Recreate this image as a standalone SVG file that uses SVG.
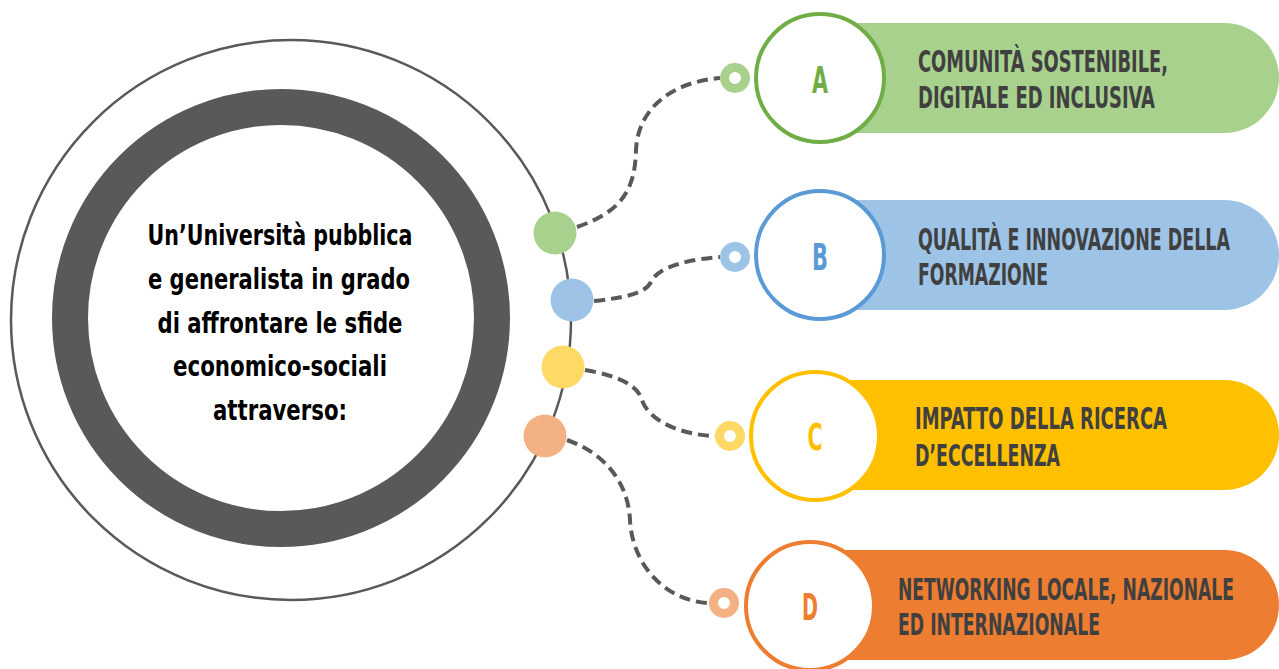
<svg xmlns="http://www.w3.org/2000/svg" width="1279" height="669" viewBox="0 0 1279 669">
<style>
.pill-t{font-family:"DejaVu Sans Condensed","DejaVu Sans","Liberation Sans",sans-serif;font-weight:bold;font-size:30px;fill:#404040}
.main-t{font-family:"DejaVu Sans Condensed","DejaVu Sans","Liberation Sans",sans-serif;font-weight:bold;font-size:28px;fill:#000;text-anchor:middle}
.letter{font-family:"DejaVu Sans Condensed","DejaVu Sans","Liberation Sans",sans-serif;font-weight:bold;font-size:38px;text-anchor:middle}
.conn{fill:none;stroke:#595959;stroke-width:4;stroke-dasharray:11 6}
.ring{fill:#fff;stroke-width:9}
.badge{fill:#fff;stroke-width:4}
</style>
<rect width="1279" height="669" fill="#fff"/>
<g id="center">
<circle cx="291" cy="320" r="280" fill="none" stroke="#595959" stroke-width="2.5"/>
<circle cx="281" cy="318" r="211" fill="#fff" stroke="#595959" stroke-width="36"/>
<text class="main-t" x="280" y="245" textLength="265" lengthAdjust="spacingAndGlyphs">Un’Università pubblica</text>
<text class="main-t" x="279" y="289" textLength="262" lengthAdjust="spacingAndGlyphs">e generalista in grado</text>
<text class="main-t" x="280" y="333" textLength="245" lengthAdjust="spacingAndGlyphs">di affrontare le sfide</text>
<text class="main-t" x="280" y="376" textLength="214" lengthAdjust="spacingAndGlyphs">economico-sociali</text>
<text class="main-t" x="280" y="420" textLength="134" lengthAdjust="spacingAndGlyphs">attraverso:</text>
</g>
<g id="connectors">
<path class="conn" d="M 577 227 C 620 212, 635 192, 636 150 C 638 108, 672 82, 720 78"/>
<path class="conn" d="M 594 301 C 622 298, 645 294, 651 282 C 658 266, 692 259, 720 257"/>
<path class="conn" d="M 585 370 C 620 376, 638 386, 642 400 C 648 420, 680 435, 715 436"/>
<path class="conn" d="M 567 440 C 602 452, 628 480, 630 520 C 632 562, 662 600, 708 603"/>
</g>
<g id="dots">
<circle cx="555" cy="233" r="21.5" fill="#A9D18E"/>
<circle cx="572" cy="300" r="21.5" fill="#9DC3E6"/>
<circle cx="563" cy="367" r="21.5" fill="#FFD966"/>
<circle cx="545" cy="436" r="21.5" fill="#F4B183"/>
</g>
<g id="node-a">
<path d="M 850 23 H 1224 A 55 55 0 0 1 1224 133 H 850 Z" fill="#A9D18E"/>
<circle class="ring" cx="735" cy="78" r="10.5" stroke="#A9D18E"/>
<circle class="badge" cx="820" cy="78" r="64" stroke="#70AD47"/>
<text class="letter" x="820" y="93" fill="#70AD47" textLength="16" lengthAdjust="spacingAndGlyphs">A</text>
<g transform="scale(0.65,1)">
<text class="pill-t" x="1412.3" y="72" textLength="384.6" lengthAdjust="spacingAndGlyphs">COMUNITÀ SOSTENIBILE,</text>
<text class="pill-t" x="1412.3" y="108" textLength="364.6" lengthAdjust="spacingAndGlyphs">DIGITALE ED INCLUSIVA</text>
</g>
</g>
<g id="node-b">
<path d="M 850 200 H 1224 A 55 55 0 0 1 1224 310 H 850 Z" fill="#9DC3E6"/>
<circle class="ring" cx="735" cy="257" r="10.5" stroke="#9DC3E6"/>
<circle class="badge" cx="820" cy="255" r="64" stroke="#5B9BD5"/>
<text class="letter" x="820" y="270" fill="#5B9BD5" textLength="16" lengthAdjust="spacingAndGlyphs">B</text>
<g transform="scale(0.65,1)">
<text class="pill-t" x="1412.3" y="250" textLength="480" lengthAdjust="spacingAndGlyphs">QUALITÀ E INNOVAZIONE DELLA</text>
<text class="pill-t" x="1412.3" y="285" textLength="200" lengthAdjust="spacingAndGlyphs">FORMAZIONE</text>
</g>
</g>
<g id="node-c">
<path d="M 845 380 H 1224 A 55 55 0 0 1 1224 490 H 845 Z" fill="#FFC000"/>
<circle class="ring" cx="730" cy="436" r="10.5" stroke="#FFD966"/>
<circle class="badge" cx="815" cy="436" r="64" stroke="#FFC000"/>
<text class="letter" x="815" y="450" fill="#FFC000" textLength="15" lengthAdjust="spacingAndGlyphs">C</text>
<g transform="scale(0.65,1)">
<text class="pill-t" x="1407.7" y="429" textLength="387.7" lengthAdjust="spacingAndGlyphs">IMPATTO DELLA RICERCA</text>
<text class="pill-t" x="1407.7" y="466" textLength="223.1" lengthAdjust="spacingAndGlyphs">D’ECCELLENZA</text>
</g>
</g>
<g id="node-d">
<path d="M 840 550 H 1224 A 55 55 0 0 1 1224 660 H 840 Z" fill="#ED7D31"/>
<circle class="ring" cx="724" cy="603" r="10.5" stroke="#F4B183"/>
<circle class="badge" cx="810" cy="606" r="64" stroke="#ED7D31"/>
<text class="letter" x="810" y="620" fill="#ED7D31" textLength="16" lengthAdjust="spacingAndGlyphs">D</text>
<g transform="scale(0.65,1)">
<text class="pill-t" x="1381.5" y="600" textLength="516.9" lengthAdjust="spacingAndGlyphs">NETWORKING LOCALE, NAZIONALE</text>
<text class="pill-t" x="1381.5" y="635" textLength="310.8" lengthAdjust="spacingAndGlyphs">ED INTERNAZIONALE</text>
</g>
</g>
</svg>
